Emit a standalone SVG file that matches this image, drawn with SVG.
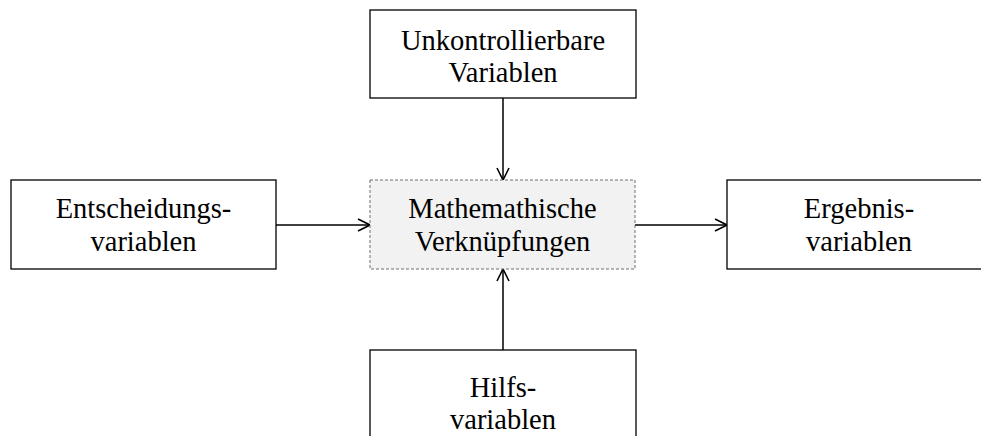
<svg xmlns="http://www.w3.org/2000/svg" width="981" height="436" viewBox="0 0 981 436">
  <style>
    .box { fill: #ffffff; stroke: #000000; stroke-width: 1.3; }
    .core { fill: #f2f2f2; stroke: #6f6f6f; stroke-width: 1; stroke-dasharray: 3 2; }
    .lbl { font-family: "Liberation Serif", "Times New Roman", serif; font-size: 28.5px; fill: #000000; text-anchor: middle; }
    .edge { stroke: #000000; stroke-width: 1.5; fill: none; marker-end: url(#open); }
  </style>
  <defs>
    <marker id="open" viewBox="0 0 14 14" refX="13" refY="7" markerWidth="14" markerHeight="14" markerUnits="userSpaceOnUse" orient="auto">
      <path d="M1,1 L13,7 L1,13" fill="none" stroke="#000000" stroke-width="1.6"/>
    </marker>
  </defs>

  <rect width="981" height="436" fill="#ffffff"/>

  <g id="connectors">
    <line class="edge" x1="503" y1="98" x2="503" y2="180"/>
    <line class="edge" x1="276" y1="225" x2="370" y2="225"/>
    <line class="edge" x1="635" y1="225" x2="727" y2="225"/>
    <line class="edge" x1="503" y1="350" x2="503" y2="269"/>
  </g>

  <g id="unkontrollierbare">
    <rect class="box" x="370" y="10" width="266" height="88"/>
    <text class="lbl" x="503" y="50">Unkontrollierbare</text>
    <text class="lbl" x="503" y="82">Variablen</text>
  </g>

  <g id="entscheidung">
    <rect class="box" x="11" y="180" width="265" height="89"/>
    <text class="lbl" x="143.5" y="218">Entscheidungs-</text>
    <text class="lbl" x="143.5" y="251">variablen</text>
  </g>

  <g id="verknuepfungen">
    <rect class="core" x="370" y="180" width="265" height="89"/>
    <text class="lbl" x="502.5" y="218">Mathemathische</text>
    <text class="lbl" x="502.5" y="251">Verknüpfungen</text>
  </g>

  <g id="ergebnis">
    <rect class="box" x="727" y="180" width="265" height="89"/>
    <text class="lbl" x="859" y="218">Ergebnis-</text>
    <text class="lbl" x="859" y="251">variablen</text>
  </g>

  <g id="hilfs">
    <rect class="box" x="370" y="350" width="266" height="100"/>
    <text class="lbl" x="503" y="397">Hilfs-</text>
    <text class="lbl" x="503" y="429">variablen</text>
  </g>
</svg>
